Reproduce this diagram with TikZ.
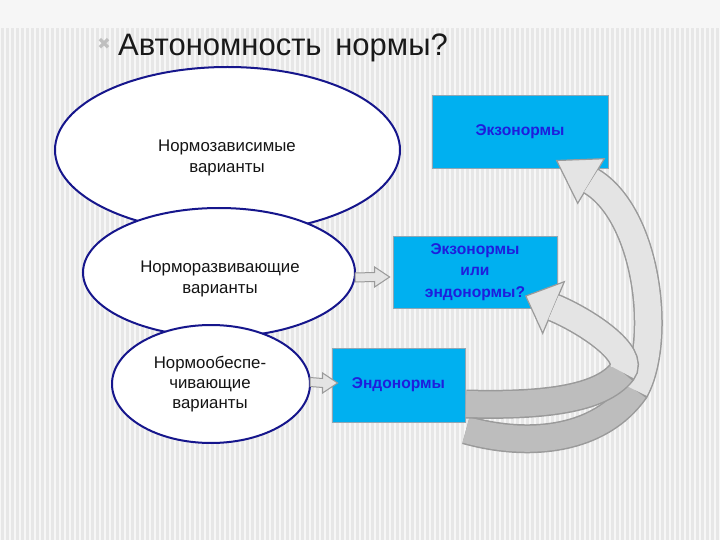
\documentclass[tikz,border=0pt]{standalone}
\usepackage{fontspec}
\setmainfont{Liberation Sans}
\newfontfamily\symfont{DejaVu Sans}
\usetikzlibrary{shapes.geometric,calc}
\definecolor{bgtop}{HTML}{F6F6F6}
\definecolor{bgbase}{HTML}{E7E7E7}
\definecolor{navy}{HTML}{16168C}
\definecolor{boxblue}{HTML}{00B0F0}
\definecolor{boxedge}{HTML}{8FA6B4}
\definecolor{boxtext}{HTML}{1E1EDC}
\definecolor{arrfill}{HTML}{E4E4E4}
\definecolor{arrdark}{HTML}{BDBDBD}
\definecolor{arrdraw}{HTML}{9A9A9A}
\tikzset{
  ell/.style={ellipse, draw=navy, line width=2pt, fill=white, inner sep=0pt},
  etext/.style={align=center, font=\fontsize{16.8}{21}\selectfont, text=black!92, inner sep=0pt},
  bluebox/.style={rectangle, fill=boxblue, draw=boxedge, line width=0.8pt, align=center,
    font=\bfseries\fontsize{15.6}{21.5}\selectfont, text=boxtext, inner sep=0pt},
  smallarr/.style={fill=arrfill, draw=arrdraw, line width=1pt, line join=miter},
  bighead/.style={fill=arrfill, draw=arrdraw, line width=1.2pt, line join=miter},
  bigline/.style={draw=arrdraw, line width=29pt},
  bigdark/.style={draw=arrdark, line width=26pt},
  biglight/.style={draw=arrfill, line width=26pt},
}
\begin{document}
\begin{tikzpicture}[x=1pt,y=-1pt]
\useasboundingbox (0,0) rectangle (720,540);
% background
\fill[bgbase] (0,0) rectangle (720,540);
\foreach \i in {0,5,...,720} \draw[white, line width=2.2pt, opacity=0.7] (\i,28) -- (\i,540);
\fill[bgtop] (0,0) rectangle (720,28);

% title
\node[text=black!25, font=\symfont\fontsize{16}{16}\selectfont, inner sep=0pt] (bul) at (104,44) {✖};
\node[anchor=base west, font=\fontsize{31}{31}\selectfont, text=black!90, inner sep=0pt] (title) at (118,56) {Автономность\, нормы?};

% ellipses
\node[ell, minimum width=345pt, minimum height=166pt] (e1) at (227.5,150) {};
\node[ell, minimum width=272pt, minimum height=129pt] (e2) at (219,272.5) {};
\node[ell, minimum width=198pt, minimum height=118pt] (e3) at (211,384) {};
\node[etext] (t1) at (227,158) {Нормозависимые\\варианты};
\node[etext] (t2) at (220,279) {Норморазвивающие\\варианты};
\node[etext, font=\fontsize{16.8}{20}\selectfont] (t3) at (210,384) {Нормообеспе-\\чивающие\\варианты};

% boxes
\node[bluebox, minimum width=176pt, minimum height=73pt] (b1) at (520,131.5) {Экзонормы};
\node[bluebox, minimum width=164pt, minimum height=72pt] (b2) at (475,272) {Экзонормы\\или\\эндонормы?};
\node[bluebox, minimum width=133pt, minimum height=74pt] (b3) at (398.5,385) {Эндонормы};

% small block arrows
\coordinate (s1) at ($(e2.east)+(-1,5)$);
\coordinate (f1) at ($(b2.west)+(-3,5)$);
\filldraw[smallarr] ($(s1)+(0,-4.5)$) -- ($(f1)+(-15,-4.5)$) -- ($(f1)+(-15,-10)$) -- (f1)
  -- ($(f1)+(-15,10)$) -- ($(f1)+(-15,4.5)$) -- ($(s1)+(0,4.5)$) -- cycle;
\coordinate (s2) at ($(e3.east)+(-1,-2)$);
\coordinate (f2) at ($(b3.west)+(6,-2)$);
\filldraw[smallarr] ($(s2)+(0,-4.5)$) -- ($(f2)+(-15,-4.5)$) -- ($(f2)+(-15,-10)$) -- (f2)
  -- ($(f2)+(-15,10)$) -- ($(f2)+(-15,4.5)$) -- ($(s2)+(0,4.5)$) -- cycle;

% big curved arrow to b1
\coordinate (o0) at (466,430);
\coordinate (o1) at (635,390);
\coordinate (o2) at (591,181);
\filldraw[bighead] (604.3,158.7) -- (556.6,160.5) -- (577.7,203.3) -- cycle;
\draw[bigline] (o0) .. controls (530,448) and (600,440) .. (o1) .. controls (662,340) and (648,215) .. (o2);
\draw[bigdark] (o0) .. controls (530,448) and (600,440) .. (o1);
\draw[biglight] (o1) .. controls (662,340) and (648,215) .. (o2);

% big curved arrow to b2
\coordinate (i0) at (466,404);
\coordinate (i1) at (622,372);
\coordinate (i2) at (553.5,307.5);
\filldraw[bighead] (564.3,281.7) -- (525.8,296) -- (542.7,333.3) -- cycle;
\draw[bigline] (i0) .. controls (540,406) and (600,400) .. (i1) .. controls (636,354) and (586,321) .. (i2);
\draw[bigdark] (i0) .. controls (540,406) and (600,400) .. (i1);
\draw[biglight] (i1) .. controls (636,354) and (586,321) .. (i2);
\end{tikzpicture}
\end{document}
